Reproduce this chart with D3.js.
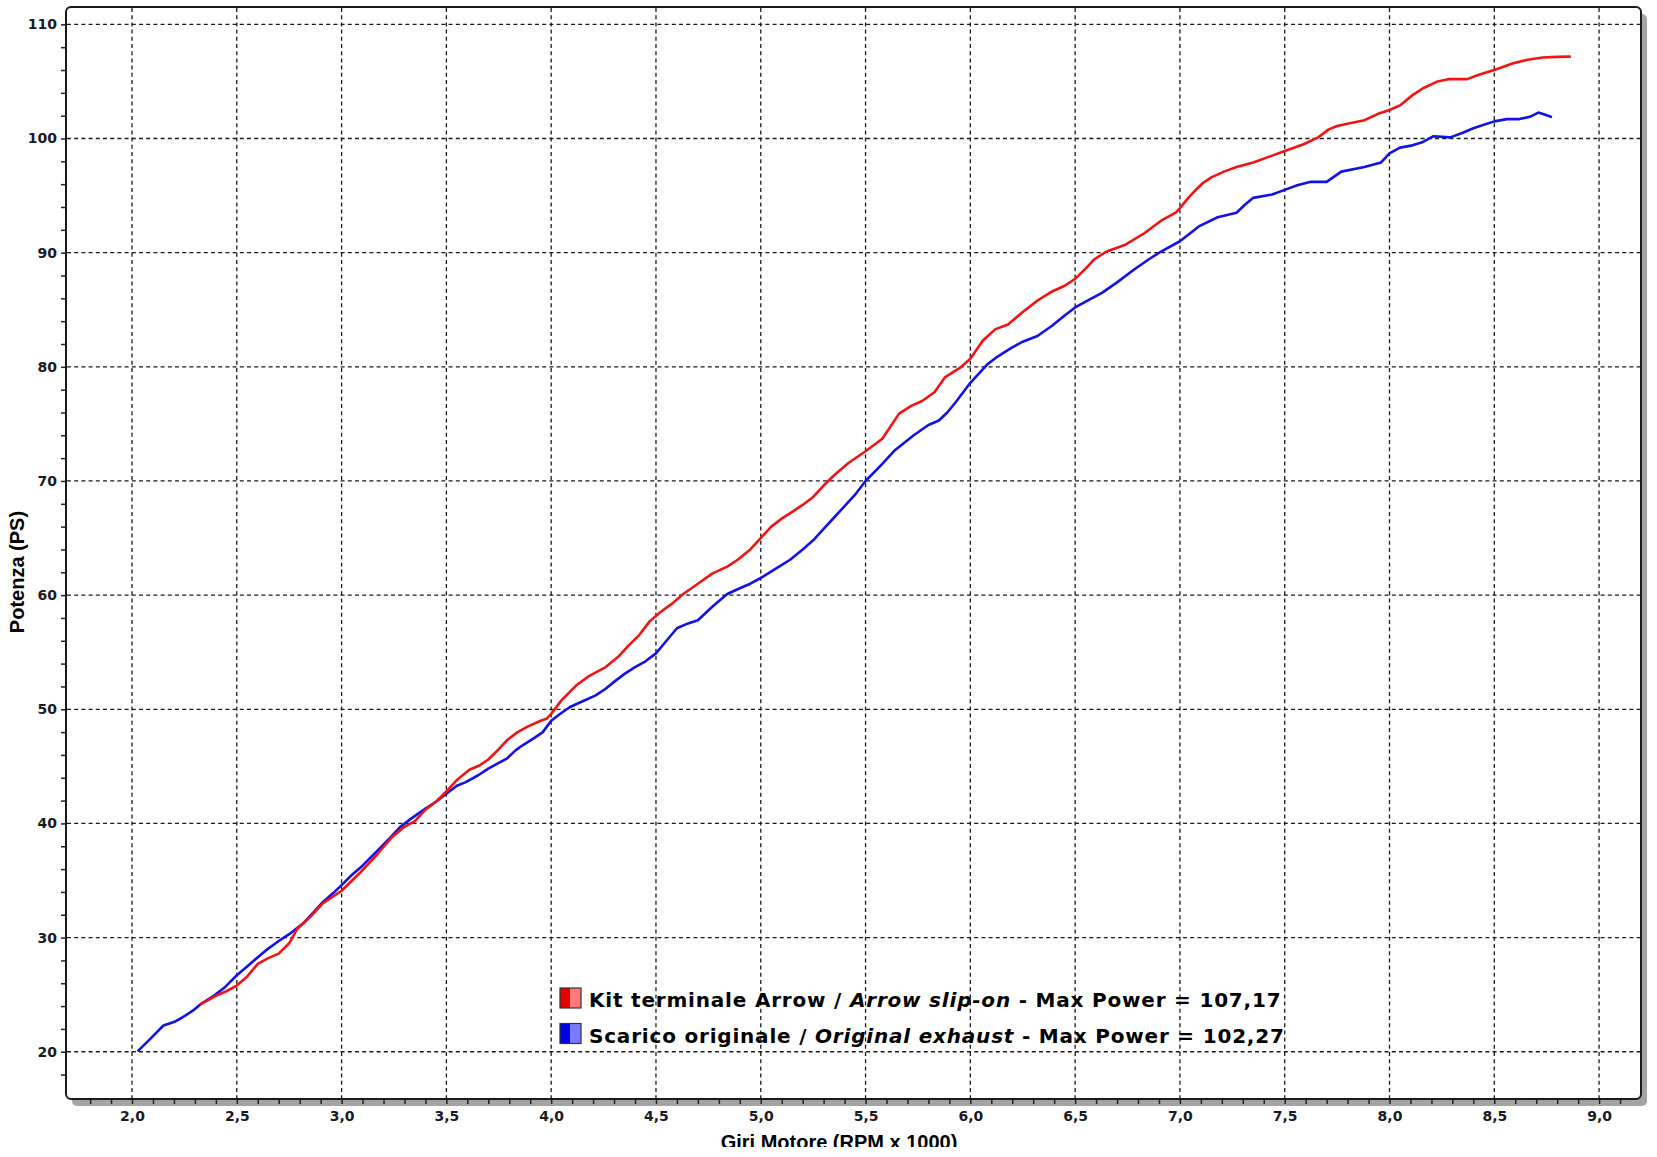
<!DOCTYPE html>
<html>
<head>
<meta charset="utf-8">
<script src="https://cdn.jsdelivr.net/npm/d3@7"></script>
<style>
  html, body { margin: 0; padding: 0; background: #fff; }
  svg { display: block; }
</style>
</head>
<body>
<svg id="chart" width="1657" height="1157"></svg>
<script>
// ---------- DATA ----------
const arrowRpm = [2.33,2.40,2.45,2.50,2.55,2.60,2.65,2.70,2.75,2.79,2.85,2.91,3.00,3.05,3.10,3.17,3.24,3.30,3.35,3.40,3.45,3.50,3.55,3.61,3.66,3.70,3.75,3.79,3.84,3.89,3.95,3.98,4.00,4.05,4.12,4.18,4.26,4.32,4.37,4.42,4.47,4.52,4.58,4.63,4.70,4.77,4.84,4.89,4.95,5.00,5.05,5.10,5.15,5.20,5.25,5.30,5.35,5.42,5.50,5.58,5.62,5.66,5.72,5.77,5.83,5.88,5.95,6.00,6.06,6.12,6.18,6.25,6.32,6.39,6.45,6.50,6.55,6.59,6.65,6.74,6.83,6.91,6.98,7.00,7.04,7.07,7.11,7.15,7.21,7.27,7.35,7.44,7.50,7.59,7.66,7.71,7.75,7.80,7.88,7.95,8.00,8.05,8.11,8.16,8.23,8.28,8.37,8.43,8.50,8.59,8.66,8.73,8.80,8.86];
const arrowPower = [24.2,24.9,25.3,25.8,26.6,27.7,28.2,28.6,29.5,30.8,31.8,33.0,34.1,35.0,35.9,37.3,38.8,39.7,40.2,41.2,41.9,42.8,43.8,44.7,45.1,45.6,46.5,47.3,48.0,48.5,49.0,49.2,49.6,50.8,52.1,52.9,53.7,54.6,55.6,56.5,57.7,58.5,59.3,60.1,61.0,61.9,62.5,63.1,64.0,65.0,66.0,66.7,67.3,67.9,68.6,69.6,70.5,71.6,72.6,73.7,74.8,75.9,76.6,77.0,77.8,79.1,79.9,80.7,82.3,83.3,83.7,84.8,85.8,86.6,87.1,87.7,88.6,89.4,90.1,90.7,91.7,92.8,93.5,93.9,94.8,95.4,96.1,96.6,97.1,97.5,97.9,98.5,98.9,99.5,100.1,100.8,101.1,101.3,101.6,102.2,102.5,102.9,103.8,104.4,105.0,105.2,105.2,105.6,106.0,106.6,106.9,107.1,107.15,107.17];

const originalRpm = [2.03,2.08,2.15,2.20,2.24,2.29,2.33,2.39,2.44,2.50,2.57,2.64,2.70,2.75,2.82,2.87,2.91,2.96,3.00,3.05,3.10,3.17,3.24,3.28,3.33,3.40,3.45,3.50,3.55,3.59,3.65,3.70,3.75,3.79,3.83,3.86,3.92,3.96,4.00,4.05,4.09,4.15,4.21,4.26,4.30,4.35,4.40,4.45,4.50,4.55,4.60,4.65,4.70,4.77,4.84,4.90,4.95,5.00,5.07,5.14,5.20,5.25,5.30,5.35,5.40,5.45,5.50,5.58,5.64,5.73,5.80,5.85,5.89,5.93,6.00,6.08,6.13,6.19,6.25,6.32,6.39,6.45,6.50,6.57,6.63,6.70,6.78,6.85,6.91,7.00,7.09,7.18,7.27,7.31,7.35,7.44,7.50,7.56,7.62,7.70,7.77,7.88,7.96,8.00,8.05,8.11,8.16,8.21,8.29,8.35,8.40,8.45,8.50,8.56,8.62,8.67,8.71,8.74,8.77];
const originalPower = [20.1,21.0,22.3,22.6,23.0,23.6,24.2,24.9,25.6,26.7,27.8,28.9,29.7,30.3,31.3,32.3,33.1,33.9,34.6,35.5,36.3,37.6,38.9,39.7,40.4,41.3,41.9,42.6,43.3,43.6,44.2,44.8,45.3,45.7,46.4,46.8,47.5,48.0,49.0,49.7,50.2,50.7,51.2,51.8,52.4,53.1,53.7,54.2,54.9,56.0,57.1,57.5,57.8,59.0,60.1,60.6,61.0,61.5,62.3,63.1,64.0,64.8,65.8,66.8,67.8,68.8,70.0,71.5,72.7,74.0,74.9,75.3,76.0,76.9,78.6,80.2,80.9,81.6,82.2,82.7,83.6,84.5,85.2,85.9,86.5,87.4,88.5,89.4,90.1,91.0,92.3,93.1,93.5,94.2,94.8,95.1,95.5,95.9,96.2,96.2,97.1,97.5,97.9,98.7,99.2,99.4,99.7,100.2,100.1,100.5,100.9,101.2,101.5,101.7,101.7,101.9,102.27,102.1,101.9];

const xTickLabels = [2.0,2.5,3.0,3.5,4.0,4.5,5.0,5.5,6.0,6.5,7.0,7.5,8.0,8.5,9.0];
const yTickLabels = [20,30,40,50,60,70,80,90,100,110];
const legendNames = [
  ["Kit terminale Arrow / ", "Arrow slip-on", " - Max Power = 107,17"],
  ["Scarico originale / ", "Original exhaust", " - Max Power = 102,27"]
];
const xTitle = "Giri Motore (RPM x 1000)";
const yTitle = "Potenza (PS)";

// ---------- LAYOUT ----------
const L = 66, T = 7, R = 1641, B = 1099;
const svg = d3.select("#chart");
const x = d3.scaleLinear().domain([1.685, 9.2]).range([L, R]);
const y = d3.scaleLinear().domain([15.86, 111.52]).range([B, T]);

const tickFont = "'DejaVu Sans', Verdana, sans-serif";
const titleFont = "'Liberation Sans', Arial, sans-serif";

// shadow
svg.append("rect").attr("x", L + 6).attr("y", T + 7).attr("width", R - L).attr("height", B - T)
  .attr("rx", 5).attr("fill", "#a4a4a4");
// plot background
svg.append("rect").attr("x", L).attr("y", T).attr("width", R - L).attr("height", B - T)
  .attr("rx", 5).attr("fill", "#fff");

// grid
const grid = svg.append("g");
grid.selectAll("line.v").data(xTickLabels).join("line")
  .attr("x1", d => x(d)).attr("x2", d => x(d)).attr("y1", T + 1).attr("y2", B - 1)
  .attr("stroke", "#1a1a1a").attr("stroke-width", 1.3).attr("stroke-dasharray", "4,3.2");
grid.selectAll("line.h").data(yTickLabels).join("line")
  .attr("x1", L + 1).attr("x2", R - 1).attr("y1", d => y(d)).attr("y2", d => y(d))
  .attr("stroke", "#1a1a1a").attr("stroke-width", 1.3).attr("stroke-dasharray", "4,3.2");

// axes ticks
const xMinor = d3.range(18, 92).map(v => v / 10);
const xAxis = d3.axisBottom(x).tickValues(xMinor).tickSize(5).tickFormat("");
svg.append("g").attr("transform", `translate(0,${B})`).call(xAxis)
  .call(g => g.select(".domain").remove())
  .call(g => g.selectAll(".tick line").attr("stroke", "#222").attr("stroke-width", 1.5));

const xLab = d3.axisBottom(x).tickValues(xTickLabels).tickSize(0).tickPadding(12)
  .tickFormat(d => d3.format(".1f")(d).replace(".", ","));
svg.append("g").attr("transform", `translate(0,${B})`).call(xLab)
  .call(g => g.select(".domain").remove())
  .call(g => g.selectAll("text").attr("font-family", tickFont).attr("font-weight", "bold")
    .attr("font-size", 14).attr("fill", "#1a1a24"));

const yMinor = d3.range(18, 111, 2);
const yAxis = d3.axisLeft(y).tickValues(yMinor).tickSize(5).tickPadding(4)
  .tickFormat(d => (d % 10 === 0 ? d : ""));
svg.append("g").attr("transform", `translate(${L},0)`).call(yAxis)
  .call(g => g.select(".domain").remove())
  .call(g => g.selectAll(".tick line").attr("stroke", "#222").attr("stroke-width", 1.5))
  .call(g => g.selectAll("text").attr("font-family", tickFont).attr("font-weight", "bold")
    .attr("font-size", 14).attr("fill", "#1a1a24"));

// frame
svg.append("rect").attr("x", L).attr("y", T).attr("width", R - L).attr("height", B - T)
  .attr("rx", 5).attr("fill", "none").attr("stroke", "#1a1a1a").attr("stroke-width", 2);

// curves
svg.append("clipPath").attr("id", "plotclip").append("rect")
  .attr("x", L).attr("y", T).attr("width", R - L).attr("height", B - T);
const line = d3.line().x(d => x(d[0])).y(d => y(d[1])).curve(d3.curveLinear);
const series = [
  { rpm: originalRpm, pw: originalPower, color: "#1212e6" },
  { rpm: arrowRpm, pw: arrowPower, color: "#f01414" }
];
const curves = svg.append("g").attr("clip-path", "url(#plotclip)");
series.forEach(s => {
  curves.append("path").datum(d3.zip(s.rpm, s.pw)).attr("d", line)
    .attr("fill", "none").attr("stroke", s.color).attr("stroke-width", 2.6)
    .attr("stroke-linejoin", "round").attr("stroke-linecap", "round");
});

// legend
const legendColors = [["#e60000", "#ff7a7a"], ["#0000e6", "#7a7aff"]];
const lg = svg.append("g");
legendNames.forEach((parts, i) => {
  const yTop = 988 + i * 35.5;
  lg.append("rect").attr("x", 560).attr("y", yTop).attr("width", 10.5).attr("height", 20)
    .attr("fill", legendColors[i][0]);
  lg.append("rect").attr("x", 570.5).attr("y", yTop).attr("width", 10.5).attr("height", 20)
    .attr("fill", legendColors[i][1]);
  lg.append("rect").attr("x", 560).attr("y", yTop).attr("width", 21).attr("height", 20)
    .attr("fill", "none").attr("stroke", "#333").attr("stroke-width", 1.2);
  const t = lg.append("text").attr("x", 589).attr("y", yTop + 19)
    .attr("font-family", tickFont).attr("font-weight", "bold").attr("font-size", 20)
    .attr("letter-spacing", 0.8).attr("fill", "#000");
  t.append("tspan").text(parts[0]);
  t.append("tspan").attr("font-style", "italic").text(parts[1]);
  t.append("tspan").text(parts[2]);
});

// axis titles
svg.append("clipPath").attr("id", "titleclip").append("rect")
  .attr("x", 0).attr("y", 0).attr("width", 1657).attr("height", 1147);
svg.append("text").attr("clip-path", "url(#titleclip)")
  .attr("x", 839).attr("y", 1149).attr("text-anchor", "middle")
  .attr("font-family", titleFont).attr("font-weight", "bold").attr("font-size", 20)
  .attr("fill", "#000").text(xTitle);
svg.append("text").attr("transform", "translate(24,572) rotate(-90)")
  .attr("text-anchor", "middle")
  .attr("font-family", titleFont).attr("font-weight", "bold").attr("font-size", 20)
  .attr("fill", "#000").text(yTitle);
</script>
</body>
</html>
